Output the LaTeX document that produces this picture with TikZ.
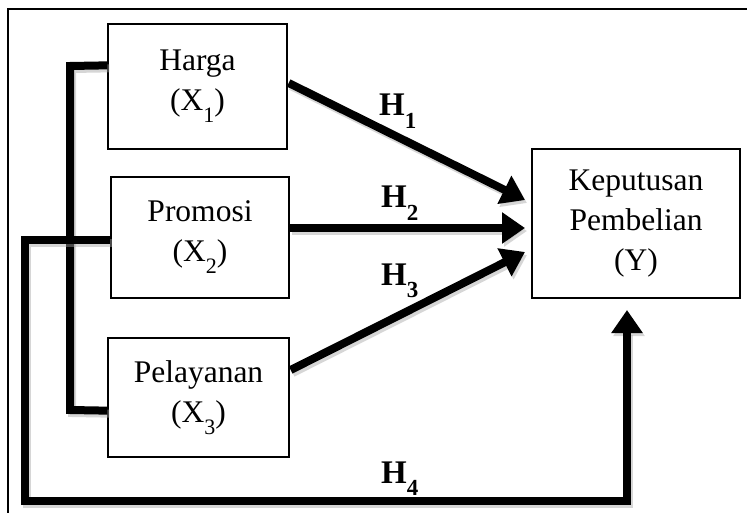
\documentclass[tikz,border=0pt]{standalone}
\usepackage{fontspec}
\setmainfont{Liberation Serif}
\usetikzlibrary{arrows.meta,calc}
\newcommand{\mysub}[2]{\raisebox{-0.38em}{\fontsize{#2}{#2}\selectfont #1}}
\begin{document}
\begin{tikzpicture}[x=1pt,y=-1pt,
  box/.style={draw,line width=1.3pt,align=center,inner sep=0pt,
    font=\fontsize{31.5}{40}\selectfont},
  link/.style={line width=8pt,
    preaction={draw=black!35,opacity=0.45,line width=8pt,transform canvas={shift={(2pt,-3pt)}}}},
  arr/.style={link,-{Triangle[length=23pt,width=30pt]}},
  hlab/.style={anchor=base west,inner sep=0pt,font=\fontsize{33}{38}\selectfont\bfseries}]
\useasboundingbox (0,0) rectangle (747,513);
\fill[white] (0,0) rectangle (747,513);
% frame (only top and left edges visible)
\coordinate (ftr) at (747,9);
\coordinate (ftl) at (8,9);
\coordinate (fbl) at (8,513);
\draw[line width=1.4pt] (ftr) -- (ftl) -- (fbl);
% boxes
\node[box,minimum width=179pt,minimum height=125pt] (h) at (197.5,86.5) {Harga\\(X\mysub{1}{22})};
\node[box,minimum width=178pt,minimum height=121pt] (p) at (200,237.5) {Promosi\\(X\mysub{2}{22})};
\node[box,minimum width=181pt,minimum height=119pt] (l) at (198.5,397.5) {Pelayanan\\(X\mysub{3}{22})};
\node[box,minimum width=208pt,minimum height=149pt] (y) at (636,223.5) {Keputusan\\Pembelian\\(Y)};
% arrow endpoints
\coordinate (t1) at (525,200);
\coordinate (t2) at (525,228);
\coordinate (t3) at (525,252);
\coordinate (t4) at (627,310);
% bracket linking the three predictors
\draw[link] ($(h.north west)+(0,42)$) -- (70,66) -- (70,410) -- ($(l.south west)+(0,-47)$);
% H4 loop
\draw[arr] ($(p.west)+(0,2.5)$) -- (25,240) -- (25,501) -- (627,501) -- (t4);
% direct paths
\draw[arr] ($(h.east)+(1,-3.5)$) -- (t1);
\draw[arr] ($(p.east)+(0,-9.5)$) -- (t2);
\draw[arr] ($(l.east)+(1,-27.5)$) -- (t3);
% labels
\node[hlab] (H1) at (379,116) {H\mysub{1}{23}};
\node[hlab] (H2) at (381,208) {H\mysub{2}{23}};
\node[hlab] (H3) at (381,285) {H\mysub{3}{23}};
\node[hlab] (H4) at (381,483) {H\mysub{4}{23}};
\end{tikzpicture}
\end{document}
